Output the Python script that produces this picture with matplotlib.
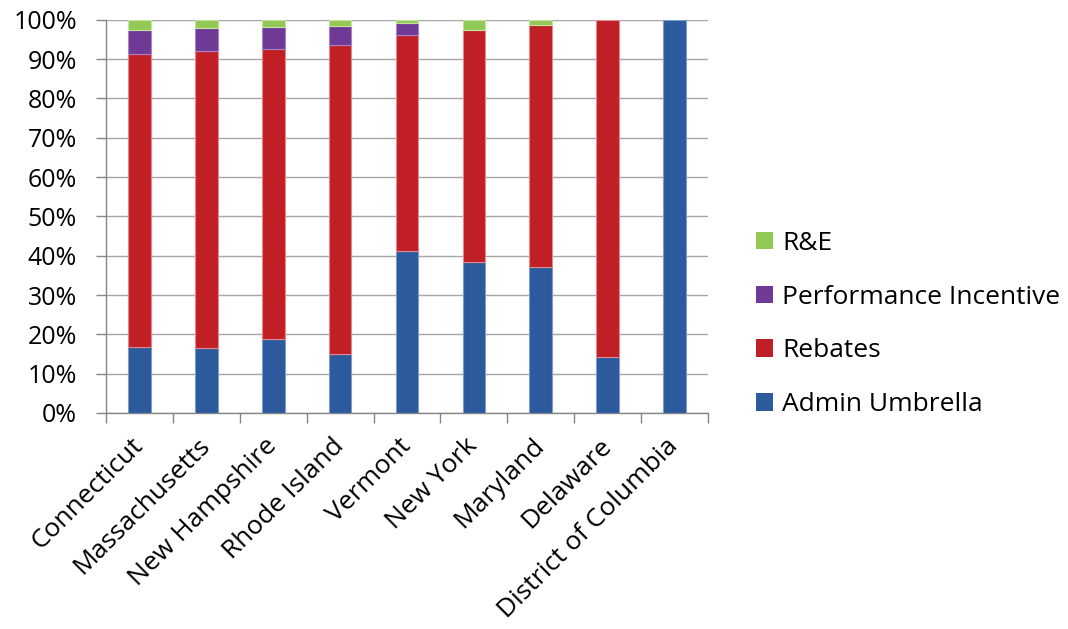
import matplotlib
matplotlib.use("Agg")
import matplotlib.pyplot as plt
import numpy as np
from matplotlib.ticker import FuncFormatter, MultipleLocator

states = ["Connecticut", "Massachusetts", "New Hampshire", "Rhode Island",
          "Vermont", "New York", "Maryland", "Delaware", "District of Columbia"]
admin_umbrella = [16.8, 16.6, 18.7, 14.9, 41.1, 38.3, 37.1, 14.2, 100.0]
rebates = [74.6, 75.5, 73.8, 78.6, 55.1, 59.2, 61.6, 85.8, 0.0]
performance_incentive = [5.9, 5.8, 5.7, 4.9, 2.9, 0.0, 0.0, 0.0, 0.0]
r_and_e = [2.7, 2.1, 1.8, 1.6, 0.9, 2.5, 1.3, 0.0, 0.0]

series = [
    ("Admin Umbrella", admin_umbrella, "#2C5A9C", "#7F9CC8"),
    ("Rebates", rebates, "#C01F26", "#E48A8E"),
    ("Performance Incentive", performance_incentive, "#6F3996", "#A884C4"),
    ("R&E", r_and_e, "#92C954", "#C3E39F"),
]

plt.rcParams["font.family"] = ["Open Sans", "DejaVu Sans"]
FS = 19

fig = plt.figure(figsize=(10.68, 6.29), dpi=100)
ax = fig.add_axes([106 / 1068, 1 - 413 / 629, (708 - 106) / 1068, (413 - 19.7) / 629])

x = np.arange(len(states))
bottom = np.zeros(len(states))
handles = []
for name, vals, color, edge in series:
    vals = np.array(vals)
    edges = [edge if v > 0 else "none" for v in vals]
    b = ax.bar(x, vals, width=0.34, bottom=bottom, color=color,
               edgecolor=edges, linewidth=0.8, label=name, zorder=3)
    handles.append(b)
    bottom += vals

ax.set_xlim(-0.5, len(states) - 0.5)
ax.set_ylim(0, 100)
ax.yaxis.set_major_locator(MultipleLocator(10))
ax.yaxis.set_major_formatter(FuncFormatter(lambda v, p: f"{int(round(v))}%"))
ax.grid(axis="y", color="#A6A6A6", linewidth=1.0, zorder=0)

ax.set_xticks(np.arange(-0.5, len(states), 1.0), minor=False)
ax.set_xticklabels([])
ax.set_xticks(x, minor=True)
ax.set_xticklabels(states, minor=True, rotation=45, ha="right", va="center",
                   rotation_mode="anchor", fontsize=FS)
ax.tick_params(axis="x", which="minor", length=0, pad=21)
ax.tick_params(axis="x", which="major", length=7, color="#868686", width=1)
ax.tick_params(axis="y", length=7, color="#868686", width=1, labelsize=18, pad=14)

for side in ["top", "right"]:
    ax.spines[side].set_visible(False)
for side in ["left", "bottom"]:
    ax.spines[side].set_color("#868686")
    ax.spines[side].set_linewidth(1.0)

leg = fig.legend(handles[::-1], [s[0] for s in series][::-1],
                 loc="center left", bbox_to_anchor=(756 / 1068, 1 - 324 / 629),
                 frameon=False, fontsize=FS, handlelength=0.65, handleheight=0.65,
                 handletextpad=0.35, labelspacing=1.09, borderpad=0, borderaxespad=0)
for h in leg.legend_handles:
    h.set_edgecolor("none")

fig.savefig("out.png", dpi=100)
